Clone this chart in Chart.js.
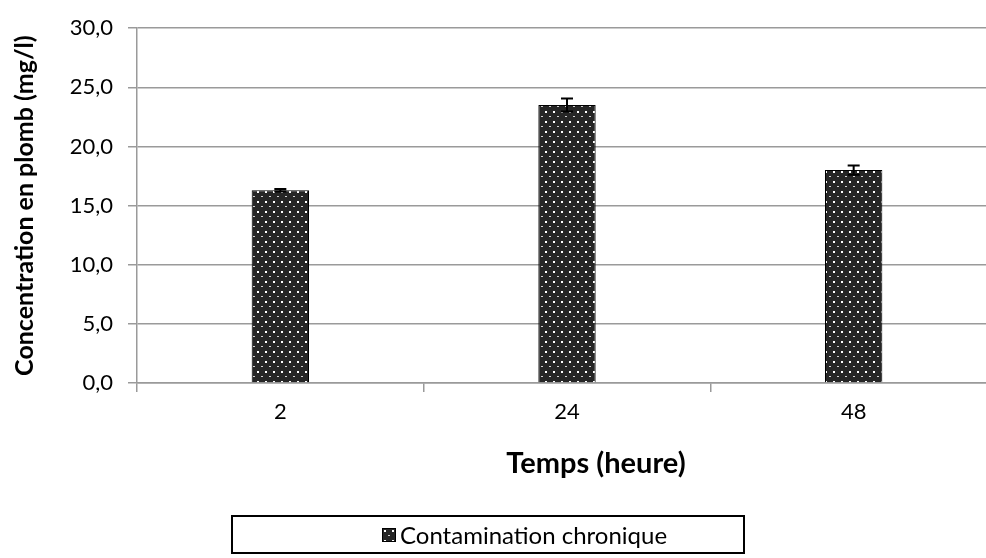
<!DOCTYPE html>
<html>
<head>
<meta charset="utf-8">
<script src="https://cdn.jsdelivr.net/npm/chart.js@4/dist/chart.umd.min.js"></script>
<style>
  html, body { margin: 0; padding: 0; background: #fff; overflow: hidden; }
  #wrap { position: relative; width: 1000px; height: 558px; }
  #xTitle {
    position: absolute; left: 446px; width: 300px; top: 444px;
    text-align: center; font: bold 29px Lato, sans-serif; color: #000;
  }
  #legend {
    position: absolute; left: 231px; top: 515px; width: 514px; height: 39px;
    border: 2px solid #000; display: flex; align-items: center; justify-content: flex-start;
    padding-left: 149px; box-sizing: border-box;
    font: 24px Lato, sans-serif; color: #000;
  }
  #legend canvas { margin-right: 4px; border: 1px solid #000; }
</style>
</head>
<body>
<div id="wrap">
  <canvas id="chart" width="1000" height="558"></canvas>
  <div id="xTitle">Temps (heure)</div>
  <div id="legend"><canvas id="swatch" width="12" height="12"></canvas><span>Contamination chronique</span></div>
</div>
<script>
// data
const hours = ['2', '24', '48'];
const leadConc = [16.3, 23.5, 18.0];
const leadErr = [0.1, 0.55, 0.4];
const seriesName = 'Contamination chronique';

// dotted fill like the excel pattern
function makePattern() {
    const tile = document.createElement('canvas');
    tile.width = 8;
    tile.height = 10;
    const c = tile.getContext('2d');
    c.fillStyle = '#262626';
    c.fillRect(0, 0, 8, 10);
    c.fillStyle = '#ffffff';
    c.fillRect(1, 1, 2, 2);
    c.fillStyle = '#d0d0d0';
    c.fillRect(5, 6, 2, 1);
    return c.createPattern(tile, 'repeat');
}

const pattern = makePattern();

// swatch for the legend
const sw = document.getElementById('swatch').getContext('2d');
sw.fillStyle = pattern;
sw.fillRect(0, 0, 12, 12);

// error bars
const errorBars = {
    id: 'errorBars',
    afterDatasetsDraw(chart) {
        const ctx = chart.ctx;
        const yScale = chart.scales.y;
        const meta = chart.getDatasetMeta(0);
        ctx.save();
        ctx.strokeStyle = '#000';
        ctx.lineWidth = 2;
        meta.data.forEach((bar, i) => {
            const x = bar.x;
            const top = yScale.getPixelForValue(leadConc[i] + leadErr[i]);
            const bottom = yScale.getPixelForValue(leadConc[i] - leadErr[i]);
            ctx.beginPath();
            ctx.moveTo(x, top);
            ctx.lineTo(x, bottom);
            ctx.moveTo(x - 6, top);
            ctx.lineTo(x + 6, top);
            ctx.moveTo(x - 6, bottom);
            ctx.lineTo(x + 6, bottom);
            ctx.stroke();
        });
        ctx.restore();
    }
};

const gridColor = '#9a9a9a';

new Chart(document.getElementById('chart'), {
    type: 'bar',
    data: {
        labels: hours,
        datasets: [{
            label: seriesName,
            data: leadConc,
            backgroundColor: pattern,
            borderColor: '#000',
            borderWidth: 1,
            categoryPercentage: 1,
            barPercentage: 0.2
        }]
    },
    options: {
        responsive: false,
        animation: false,
        devicePixelRatio: 1,
        layout: { padding: { top: 25, right: 3, left: 0, bottom: 0 } },
        plugins: {
            legend: { display: false },
            tooltip: { enabled: false }
        },
        scales: {
            x: {
                offset: true,
                grid: {
                    offset: true,
                    drawOnChartArea: false,
                    color: gridColor,
                    lineWidth: 1.5,
                    tickLength: 9
                },
                border: { color: gridColor, width: 1.5 },
                ticks: {
                    color: '#000',
                    font: { family: 'Lato', size: 22 },
                    padding: 7
                },
                afterFit(scale) { scale.height = 175; }
            },
            y: {
                min: 0,
                max: 30,
                ticks: {
                    stepSize: 5,
                    color: '#000',
                    font: { family: 'Lato', size: 22 },
                    padding: 15,
                    callback: v => v.toFixed(1).replace('.', ',')
                },
                grid: { color: gridColor, lineWidth: 1.5, tickLength: 9 },
                border: { color: gridColor, width: 1.5 },
                title: {
                    display: true,
                    text: 'Concentration en plomb (mg/l)',
                    color: '#000',
                    font: { family: 'Lato', size: 25, weight: 'bold' },
                    padding: { top: 10, bottom: 0 }
                },
                afterFit(scale) { scale.width = 137; }
            }
        }
    },
    plugins: [errorBars]
});
</script>
</body>
</html>
